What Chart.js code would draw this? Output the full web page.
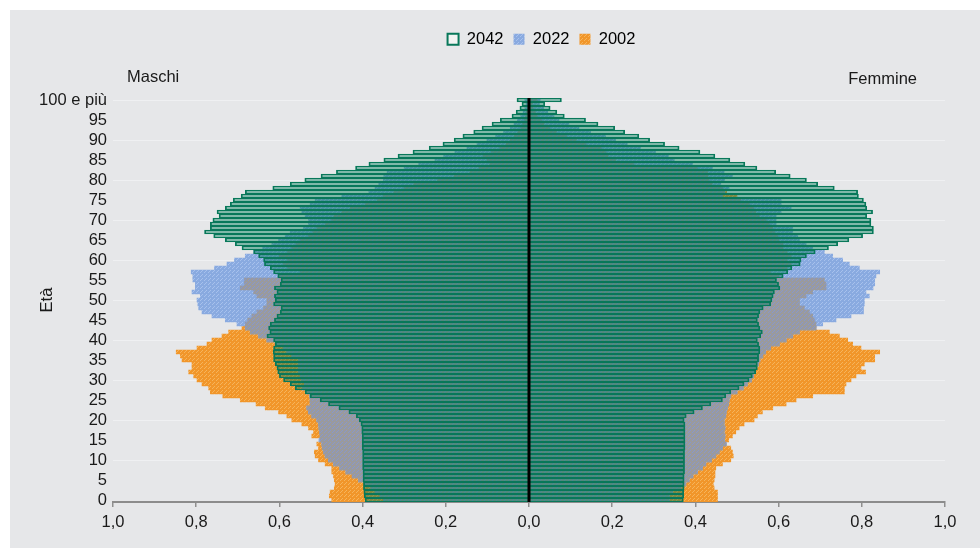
<!DOCTYPE html>
<html>
<head>
<meta charset="utf-8">
<script src="https://cdn.jsdelivr.net/npm/chart.js@4.4.1/dist/chart.umd.min.js"></script>
<style>
  html, body { margin: 0; padding: 0; background: #fff; }
  #wrap { width: 980px; height: 548px; }
</style>
</head>
<body>
<div id="wrap"><canvas id="pyramid"></canvas></div>
<script>
// age classes 0..99 and "100 e più"
const ages = Array.from({ length: 101 }, (_, i) => (i === 100 ? '100 e più' : String(i)));
const years = ['2042', '2022', '2002'];
const xTicks = [-1, -0.8, -0.6, -0.4, -0.2, 0, 0.2, 0.4, 0.6, 0.8, 1];

// values in % of total population, index = age
const male2042 = [
  0.394, 0.396, 0.397, 0.398, 0.398, 0.399, 0.399, 0.399, 0.400, 0.400,
  0.400, 0.400, 0.400, 0.401, 0.401, 0.401, 0.401, 0.402, 0.402, 0.404,
  0.408, 0.415, 0.433, 0.457, 0.482, 0.502, 0.526, 0.538, 0.562, 0.574,
  0.590, 0.600, 0.604, 0.606, 0.610, 0.614, 0.614, 0.615, 0.614, 0.610,
  0.614, 0.630, 0.623, 0.626, 0.622, 0.612, 0.606, 0.598, 0.596, 0.614,
  0.610, 0.612, 0.606, 0.612, 0.598, 0.596, 0.604, 0.614, 0.622, 0.636,
  0.638, 0.650, 0.662, 0.690, 0.706, 0.730, 0.758, 0.780, 0.766, 0.766,
  0.760, 0.745, 0.750, 0.730, 0.718, 0.711, 0.692, 0.682, 0.616, 0.574,
  0.539, 0.500, 0.463, 0.417, 0.385, 0.349, 0.315, 0.279, 0.240, 0.207,
  0.180, 0.159, 0.133, 0.113, 0.089, 0.069, 0.041, 0.031, 0.022, 0.017,
  0.029
];
const male2022 = [
  0.350, 0.358, 0.370, 0.380, 0.395, 0.410, 0.425, 0.440, 0.455, 0.470,
  0.482, 0.490, 0.494, 0.497, 0.498, 0.505, 0.502, 0.503, 0.505, 0.506,
  0.510, 0.522, 0.530, 0.534, 0.526, 0.526, 0.528, 0.535, 0.545, 0.540,
  0.547, 0.550, 0.554, 0.554, 0.554, 0.554, 0.570, 0.582, 0.591, 0.610,
  0.630, 0.650, 0.670, 0.682, 0.702, 0.730, 0.762, 0.786, 0.794, 0.796,
  0.798, 0.790, 0.810, 0.802, 0.802, 0.808, 0.808, 0.812, 0.756, 0.726,
  0.708, 0.682, 0.662, 0.640, 0.618, 0.602, 0.586, 0.574, 0.542, 0.530,
  0.530, 0.538, 0.546, 0.550, 0.526, 0.514, 0.450, 0.385, 0.370, 0.361,
  0.350, 0.349, 0.341, 0.300, 0.265, 0.226, 0.205, 0.178, 0.149, 0.125,
  0.101, 0.080, 0.061, 0.045, 0.036, 0.028, 0.020, 0.014, 0.010, 0.007,
  0.010
];
const male2002 = [
  0.474, 0.480, 0.478, 0.468, 0.466, 0.468, 0.470, 0.474, 0.474, 0.490,
  0.506, 0.514, 0.516, 0.506, 0.510, 0.502, 0.522, 0.518, 0.530, 0.546,
  0.570, 0.582, 0.602, 0.634, 0.656, 0.694, 0.736, 0.766, 0.770, 0.786,
  0.798, 0.806, 0.818, 0.810, 0.810, 0.834, 0.838, 0.848, 0.798, 0.774,
  0.762, 0.738, 0.722, 0.690, 0.682, 0.676, 0.666, 0.654, 0.638, 0.630,
  0.630, 0.654, 0.662, 0.694, 0.684, 0.684, 0.600, 0.550, 0.580, 0.590,
  0.580, 0.600, 0.580, 0.570, 0.560, 0.550, 0.530, 0.520, 0.510, 0.490,
  0.474, 0.469, 0.450, 0.430, 0.394, 0.365, 0.350, 0.325, 0.300, 0.277,
  0.220, 0.180, 0.142, 0.120, 0.094, 0.100, 0.110, 0.090, 0.070, 0.055,
  0.045, 0.035, 0.027, 0.020, 0.015, 0.011, 0.008, 0.006, 0.004, 0.003,
  0.004
];
const female2042 = [
  0.371, 0.372, 0.372, 0.373, 0.373, 0.373, 0.373, 0.374, 0.374, 0.374,
  0.374, 0.374, 0.374, 0.375, 0.375, 0.375, 0.375, 0.375, 0.375, 0.375,
  0.373, 0.378, 0.397, 0.417, 0.437, 0.465, 0.473, 0.485, 0.505, 0.517,
  0.529, 0.537, 0.545, 0.549, 0.549, 0.552, 0.552, 0.555, 0.555, 0.552,
  0.549, 0.557, 0.561, 0.555, 0.552, 0.549, 0.552, 0.555, 0.563, 0.581,
  0.584, 0.587, 0.590, 0.603, 0.600, 0.595, 0.611, 0.622, 0.632, 0.652,
  0.654, 0.667, 0.688, 0.720, 0.742, 0.769, 0.802, 0.828, 0.828, 0.822,
  0.822, 0.812, 0.826, 0.812, 0.810, 0.804, 0.792, 0.790, 0.734, 0.694,
  0.667, 0.628, 0.593, 0.548, 0.519, 0.483, 0.447, 0.411, 0.361, 0.326,
  0.290, 0.264, 0.230, 0.206, 0.166, 0.136, 0.085, 0.067, 0.051, 0.038,
  0.078
];
const female2022 = [
  0.337, 0.337, 0.345, 0.365, 0.377, 0.385, 0.394, 0.405, 0.417, 0.425,
  0.439, 0.449, 0.457, 0.465, 0.474, 0.470, 0.471, 0.469, 0.471, 0.469,
  0.469, 0.473, 0.474, 0.477, 0.480, 0.481, 0.485, 0.500, 0.515, 0.525,
  0.535, 0.540, 0.541, 0.545, 0.552, 0.555, 0.562, 0.569, 0.581, 0.602,
  0.618, 0.634, 0.650, 0.690, 0.706, 0.738, 0.774, 0.804, 0.804, 0.806,
  0.806, 0.818, 0.810, 0.827, 0.831, 0.831, 0.834, 0.843, 0.794, 0.770,
  0.754, 0.730, 0.710, 0.682, 0.666, 0.650, 0.646, 0.634, 0.634, 0.594,
  0.594, 0.594, 0.606, 0.630, 0.606, 0.606, 0.465, 0.470, 0.481, 0.461,
  0.470, 0.489, 0.469, 0.441, 0.393, 0.349, 0.335, 0.304, 0.268, 0.236,
  0.208, 0.184, 0.148, 0.120, 0.096, 0.072, 0.060, 0.045, 0.035, 0.025,
  0.027
];
const female2002 = [
  0.453, 0.453, 0.453, 0.445, 0.443, 0.445, 0.447, 0.447, 0.449, 0.465,
  0.485, 0.491, 0.489, 0.485, 0.474, 0.480, 0.489, 0.497, 0.505, 0.517,
  0.541, 0.549, 0.561, 0.586, 0.618, 0.642, 0.682, 0.758, 0.758, 0.762,
  0.774, 0.786, 0.809, 0.798, 0.806, 0.831, 0.831, 0.843, 0.798, 0.778,
  0.766, 0.746, 0.722, 0.690, 0.690, 0.686, 0.682, 0.674, 0.662, 0.650,
  0.650, 0.666, 0.682, 0.714, 0.714, 0.710, 0.600, 0.580, 0.620, 0.630,
  0.620, 0.630, 0.620, 0.610, 0.610, 0.600, 0.598, 0.590, 0.586, 0.578,
  0.570, 0.553, 0.545, 0.540, 0.530, 0.509, 0.500, 0.475, 0.465, 0.440,
  0.433, 0.430, 0.429, 0.405, 0.252, 0.208, 0.190, 0.185, 0.174, 0.137,
  0.114, 0.090, 0.066, 0.050, 0.036, 0.030, 0.020, 0.015, 0.010, 0.008,
  0.020
];

const GREEN = '#08785a';
const BG = '#e6e7e9';
const FONT = '"Liberation Sans", Arial, sans-serif';

function makePattern(base, dot) {
  const c = document.createElement('canvas');
  c.width = 4; c.height = 4;
  const g = c.getContext('2d');
  g.fillStyle = base; g.fillRect(0, 0, 4, 4);
  g.fillStyle = dot; g.fillRect(0, 0, 1, 1); g.fillRect(2, 2, 1, 1); g.fillRect(1, 3, 1, 1);
  return g.createPattern(c, 'repeat');
}
const bluePat = makePattern('#89aae0', '#a7c1ed');
const orangePat = makePattern('#f1962a', '#f6b45c');
const grayPat = makePattern('#9a9a9d', '#8898cb');

// one floating bar per age: males on the left (negative), females on the right
const span = (m, f) => ages.map((_, i) => [-m[i], f[i]]);
const overlapM = male2022.map((v, i) => Math.min(v, male2002[i]));
const overlapF = female2022.map((v, i) => Math.min(v, female2002[i]));

const common = { grouped: false, barPercentage: 1, categoryPercentage: 1, borderSkipped: false };

Chart.defaults.font.family = FONT;
Chart.defaults.font.size = 16.5;
Chart.defaults.color = '#1a1a1a';

const panel = {
  id: 'panel',
  beforeInit(chart) {
    const fit = chart.legend.fit;
    chart.legend.fit = function () {
      fit.call(this);
      this.height = 77;
    };
  },
  afterLayout(chart) {
    // legend sits a bit right of the canvas centre
    chart.legend.left += 50;
    chart.legend.right += 50;
  },
  beforeDraw(chart) {
    const c = chart.ctx;
    c.save();
    c.fillStyle = '#fff';
    c.fillRect(0, 0, chart.width, chart.height);
    c.fillStyle = BG;
    c.fillRect(10, 10, chart.width - 10, chart.height - 10);
    c.restore();
  },
  afterDatasetsDraw(chart) {
    const c = chart.ctx;
    const x = chart.scales.x.getPixelForValue(0);
    c.save();
    c.strokeStyle = '#000';
    c.lineWidth = 3;
    c.beginPath();
    c.moveTo(x, chart.chartArea.top);
    c.lineTo(x, chart.chartArea.bottom);
    c.stroke();
    c.fillStyle = '#1a1a1a';
    c.font = '16.5px ' + FONT;
    c.textBaseline = 'middle';
    c.textAlign = 'left';
    c.fillText('Maschi', 127, 77);
    c.textAlign = 'right';
    c.fillText('Femmine', 917, 79);
    c.restore();
  }
};

new Chart(document.getElementById('pyramid'), {
  type: 'bar',
  data: {
    labels: ages,
    datasets: [
      { ...common, label: years[0], data: span(male2042, female2042),
        backgroundColor: 'rgba(0,0,0,0)', borderColor: GREEN, borderWidth: 1.15 },
      { ...common, label: 'overlap', data: span(overlapM, overlapF), backgroundColor: grayPat, borderWidth: 0 },
      { ...common, label: years[1], data: span(male2022, female2022), backgroundColor: bluePat, borderWidth: 0 },
      { ...common, label: years[2], data: span(male2002, female2002), backgroundColor: orangePat, borderWidth: 0 },
      { ...common, label: 'fill', data: span(male2042, female2042), backgroundColor: '#f7f9f8', borderWidth: 0 }
    ]
  },
  options: {
    indexAxis: 'y',
    responsive: true,
    maintainAspectRatio: false,
    animation: false,
    layout: { padding: { left: 38, right: 35, top: 21, bottom: 10 } },
    plugins: {
      tooltip: { enabled: false },
      legend: {
        position: 'top',
        labels: {
          boxWidth: 11,
          boxHeight: 11,
          padding: 10,
          generateLabels: () => [
            { text: years[0], fillStyle: '#f1f4f2', strokeStyle: GREEN, lineWidth: 2, datasetIndex: 0 },
            { text: years[1], fillStyle: bluePat, strokeStyle: 'rgba(0,0,0,0)', lineWidth: 0, datasetIndex: 2 },
            { text: years[2], fillStyle: orangePat, strokeStyle: 'rgba(0,0,0,0)', lineWidth: 0, datasetIndex: 3 }
          ]
        }
      }
    },
    scales: {
      x: {
        min: -1,
        max: 1,
        afterBuildTicks: (s) => { s.ticks = xTicks.map(v => ({ value: v })); },
        afterFit: (s) => { s.height = 36; },
        ticks: {
          padding: 6,
          callback: (v) => Math.abs(v).toFixed(1).replace('.', ',')
        },
        grid: { drawOnChartArea: false, drawTicks: true, tickLength: 5, color: '#8f8f8f', lineWidth: 1.5 },
        border: { display: true, color: '#8c8c8c', width: 2 }
      },
      y: {
        reverse: true,
        afterFit: (s) => { s.width = 75; },
        title: { display: true, text: 'Età', padding: 0 },
        ticks: {
          autoSkip: false,
          padding: 6,
          callback: (v, i) => (i % 5 === 0 ? ages[i] : '')
        },
        grid: {
          offset: false,
          drawTicks: false,
          color: (ctx) => (ctx.index % 10 === 0 && ctx.index > 0 ? '#eff0f2' : 'rgba(0,0,0,0)')
        },
        border: { display: false }
      }
    }
  },
  plugins: [panel]
});
</script>
</body>
</html>
